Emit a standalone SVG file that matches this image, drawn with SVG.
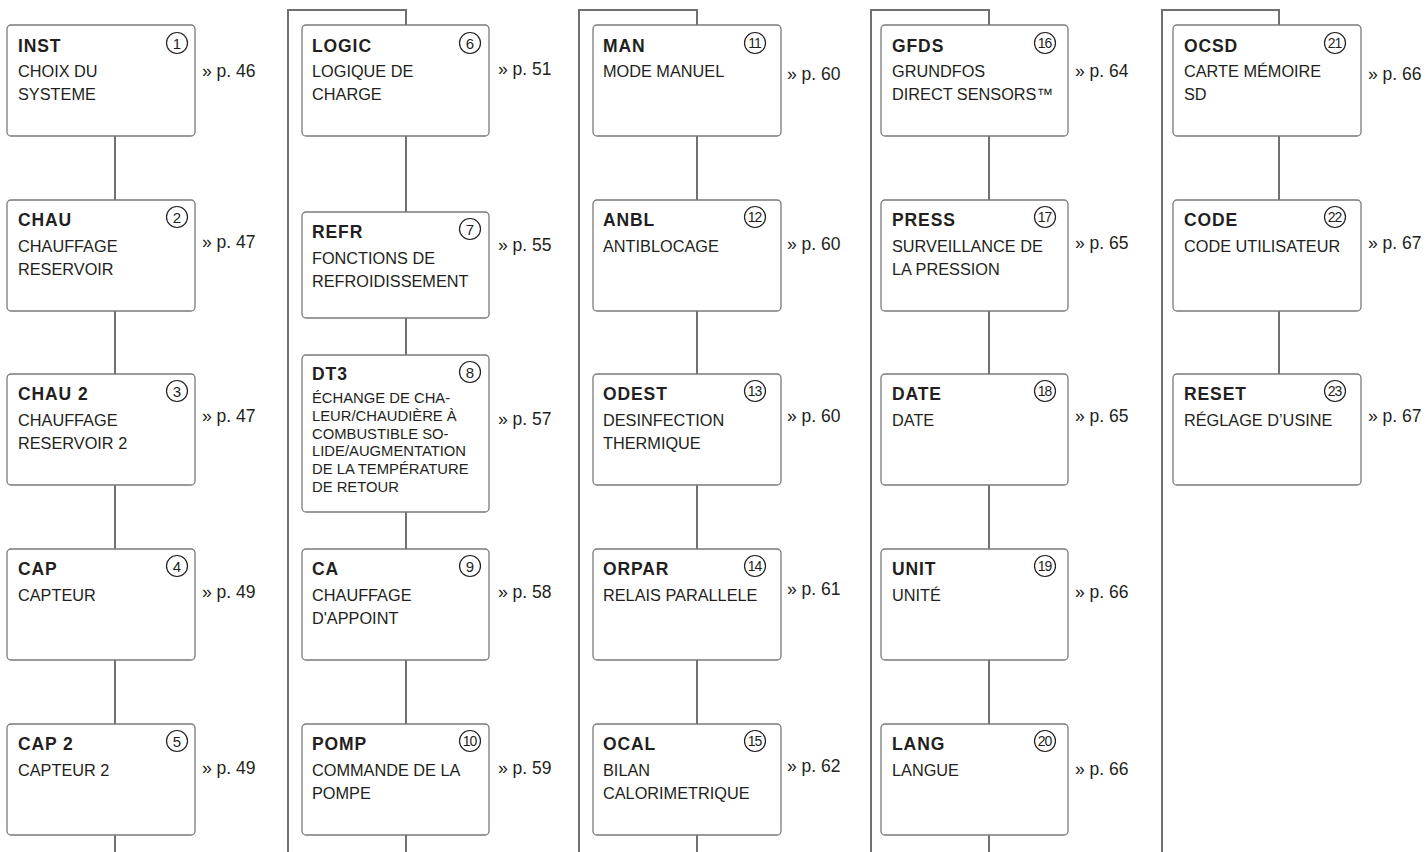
<svg xmlns="http://www.w3.org/2000/svg" width="1427" height="852" viewBox="0 0 1427 852">
<style>
.box{fill:#fff;stroke:#7a7a7a;stroke-width:1.3}
.conn{fill:none;stroke:#707070;stroke-width:2}
text{font-family:"Liberation Sans",Arial,sans-serif;fill:#231f20}
.t{font-weight:bold;font-size:17.5px;letter-spacing:0.9px}
.d{font-size:16.3px}
.s{font-size:14.8px}
.p{font-size:17.5px}
.nc{fill:#fff;stroke:#231f20;stroke-width:1.2}
.n{font-size:15px;text-anchor:middle}
.n2{font-size:14px;text-anchor:middle;letter-spacing:-1px}
</style>
<rect width="1427" height="852" fill="#fff"/>
<g id="connectors">
<path class="conn" d="M115 136V200M115 311V374M115 485V549M115 660V724M115 835V852"/>
<path class="conn" d="M288 852V10H406V25M406 136V212M406 318V355M406 512V549M406 660V724M406 835V852"/>
<path class="conn" d="M579 852V10H697V25M697 136V200M697 311V374M697 485V549M697 660V724M697 835V852"/>
<path class="conn" d="M871 852V10H989V25M989 136V200M989 311V374M989 485V549M989 660V724M989 835V852"/>
<path class="conn" d="M1162 852V10H1279V25M1279 136V200M1279 311V374"/>
</g>
<g id="n1"><rect class="box" x="7" y="25" width="188" height="111" rx="4"/><text class="t" x="18" y="52">INST</text><circle class="nc" cx="177" cy="43" r="10.5"/><text class="n" x="177" y="48.5">1</text><text class="d" x="18" y="77">CHOIX DU</text><text class="d" x="18" y="100">SYSTEME</text><text class="p" x="202" y="77">» p. 46</text></g>
<g id="n2"><rect class="box" x="7" y="200" width="188" height="111" rx="4"/><text class="t" x="18" y="226">CHAU</text><circle class="nc" cx="177" cy="217" r="10.5"/><text class="n" x="177" y="222.5">2</text><text class="d" x="18" y="252">CHAUFFAGE</text><text class="d" x="18" y="275">RESERVOIR</text><text class="p" x="202" y="248">» p. 47</text></g>
<g id="n3"><rect class="box" x="7" y="374" width="188" height="111" rx="4"/><text class="t" x="18" y="400">CHAU 2</text><circle class="nc" cx="177" cy="391" r="10.5"/><text class="n" x="177" y="396.5">3</text><text class="d" x="18" y="426">CHAUFFAGE</text><text class="d" x="18" y="449">RESERVOIR 2</text><text class="p" x="202" y="422">» p. 47</text></g>
<g id="n4"><rect class="box" x="7" y="549" width="188" height="111" rx="4"/><text class="t" x="18" y="575">CAP</text><circle class="nc" cx="177" cy="566" r="10.5"/><text class="n" x="177" y="571.5">4</text><text class="d" x="18" y="601">CAPTEUR</text><text class="p" x="202" y="598">» p. 49</text></g>
<g id="n5"><rect class="box" x="7" y="724" width="188" height="111" rx="4"/><text class="t" x="18" y="750">CAP 2</text><circle class="nc" cx="177" cy="741" r="10.5"/><text class="n" x="177" y="746.5">5</text><text class="d" x="18" y="776">CAPTEUR 2</text><text class="p" x="202" y="774">» p. 49</text></g>
<g id="n6"><rect class="box" x="302" y="25" width="187" height="111" rx="4"/><text class="t" x="312" y="52">LOGIC</text><circle class="nc" cx="470" cy="43" r="10.5"/><text class="n" x="470" y="48.5">6</text><text class="d" x="312" y="77">LOGIQUE DE</text><text class="d" x="312" y="100">CHARGE</text><text class="p" x="498" y="75">» p. 51</text></g>
<g id="n7"><rect class="box" x="302" y="212" width="187" height="106" rx="4"/><text class="t" x="312" y="238">REFR</text><circle class="nc" cx="470" cy="229" r="10.5"/><text class="n" x="470" y="234.5">7</text><text class="d" x="312" y="264">FONCTIONS DE</text><text class="d" x="312" y="287">REFROIDISSEMENT</text><text class="p" x="498" y="251">» p. 55</text></g>
<g id="n8"><rect class="box" x="302" y="355" width="187" height="157" rx="4"/><text class="t" x="312" y="380">DT3</text><circle class="nc" cx="470" cy="372" r="10.5"/><text class="n" x="470" y="377.5">8</text><text class="s" x="312" y="403">ÉCHANGE DE CHA-</text><text class="s" x="312" y="421">LEUR/CHAUDIÈRE À</text><text class="s" x="312" y="439">COMBUSTIBLE SO-</text><text class="s" x="312" y="456">LIDE/AUGMENTATION</text><text class="s" x="312" y="474">DE LA TEMPÉRATURE</text><text class="s" x="312" y="492">DE RETOUR</text><text class="p" x="498" y="425">» p. 57</text></g>
<g id="n9"><rect class="box" x="302" y="549" width="187" height="111" rx="4"/><text class="t" x="312" y="575">CA</text><circle class="nc" cx="470" cy="566" r="10.5"/><text class="n" x="470" y="571.5">9</text><text class="d" x="312" y="601">CHAUFFAGE</text><text class="d" x="312" y="624">D'APPOINT</text><text class="p" x="498" y="598">» p. 58</text></g>
<g id="n10"><rect class="box" x="302" y="724" width="187" height="111" rx="4"/><text class="t" x="312" y="750">POMP</text><circle class="nc" cx="470" cy="741" r="10.5"/><text class="n2" x="469.5" y="746">10</text><text class="d" x="312" y="776">COMMANDE DE LA</text><text class="d" x="312" y="799">POMPE</text><text class="p" x="498" y="774">» p. 59</text></g>
<g id="n11"><rect class="box" x="593" y="25" width="188" height="111" rx="4"/><text class="t" x="603" y="52">MAN</text><circle class="nc" cx="755" cy="43" r="10.5"/><text class="n2" x="754.5" y="48">11</text><text class="d" x="603" y="77">MODE MANUEL</text><text class="p" x="787" y="80">» p. 60</text></g>
<g id="n12"><rect class="box" x="593" y="200" width="188" height="111" rx="4"/><text class="t" x="603" y="226">ANBL</text><circle class="nc" cx="755" cy="217" r="10.5"/><text class="n2" x="754.5" y="222">12</text><text class="d" x="603" y="252">ANTIBLOCAGE</text><text class="p" x="787" y="250">» p. 60</text></g>
<g id="n13"><rect class="box" x="593" y="374" width="188" height="111" rx="4"/><text class="t" x="603" y="400">ODEST</text><circle class="nc" cx="755" cy="391" r="10.5"/><text class="n2" x="754.5" y="396">13</text><text class="d" x="603" y="426">DESINFECTION</text><text class="d" x="603" y="449">THERMIQUE</text><text class="p" x="787" y="422">» p. 60</text></g>
<g id="n14"><rect class="box" x="593" y="549" width="188" height="111" rx="4"/><text class="t" x="603" y="575">ORPAR</text><circle class="nc" cx="755" cy="566" r="10.5"/><text class="n2" x="754.5" y="571">14</text><text class="d" x="603" y="601">RELAIS PARALLELE</text><text class="p" x="787" y="595">» p. 61</text></g>
<g id="n15"><rect class="box" x="593" y="724" width="188" height="111" rx="4"/><text class="t" x="603" y="750">OCAL</text><circle class="nc" cx="755" cy="741" r="10.5"/><text class="n2" x="754.5" y="746">15</text><text class="d" x="603" y="776">BILAN</text><text class="d" x="603" y="799">CALORIMETRIQUE</text><text class="p" x="787" y="772">» p. 62</text></g>
<g id="n16"><rect class="box" x="881" y="25" width="187" height="111" rx="4"/><text class="t" x="892" y="52">GFDS</text><circle class="nc" cx="1045" cy="43" r="10.5"/><text class="n2" x="1044.5" y="48">16</text><text class="d" x="892" y="77">GRUNDFOS</text><text class="d" x="892" y="100">DIRECT SENSORS™</text><text class="p" x="1075" y="77">» p. 64</text></g>
<g id="n17"><rect class="box" x="881" y="200" width="187" height="111" rx="4"/><text class="t" x="892" y="226">PRESS</text><circle class="nc" cx="1045" cy="217" r="10.5"/><text class="n2" x="1044.5" y="222">17</text><text class="d" x="892" y="252">SURVEILLANCE DE</text><text class="d" x="892" y="275">LA PRESSION</text><text class="p" x="1075" y="249">» p. 65</text></g>
<g id="n18"><rect class="box" x="881" y="374" width="187" height="111" rx="4"/><text class="t" x="892" y="400">DATE</text><circle class="nc" cx="1045" cy="391" r="10.5"/><text class="n2" x="1044.5" y="396">18</text><text class="d" x="892" y="426">DATE</text><text class="p" x="1075" y="422">» p. 65</text></g>
<g id="n19"><rect class="box" x="881" y="549" width="187" height="111" rx="4"/><text class="t" x="892" y="575">UNIT</text><circle class="nc" cx="1045" cy="566" r="10.5"/><text class="n2" x="1044.5" y="571">19</text><text class="d" x="892" y="601">UNITÉ</text><text class="p" x="1075" y="598">» p. 66</text></g>
<g id="n20"><rect class="box" x="881" y="724" width="187" height="111" rx="4"/><text class="t" x="892" y="750">LANG</text><circle class="nc" cx="1045" cy="741" r="10.5"/><text class="n2" x="1044.5" y="746">20</text><text class="d" x="892" y="776">LANGUE</text><text class="p" x="1075" y="775">» p. 66</text></g>
<g id="n21"><rect class="box" x="1173" y="25" width="188" height="111" rx="4"/><text class="t" x="1184" y="52">OCSD</text><circle class="nc" cx="1335" cy="43" r="10.5"/><text class="n2" x="1334.5" y="48">21</text><text class="d" x="1184" y="77">CARTE MÉMOIRE</text><text class="d" x="1184" y="100">SD</text><text class="p" x="1368" y="80">» p. 66</text></g>
<g id="n22"><rect class="box" x="1173" y="200" width="188" height="111" rx="4"/><text class="t" x="1184" y="226">CODE</text><circle class="nc" cx="1335" cy="217" r="10.5"/><text class="n2" x="1334.5" y="222">22</text><text class="d" x="1184" y="252">CODE UTILISATEUR</text><text class="p" x="1368" y="249">» p. 67</text></g>
<g id="n23"><rect class="box" x="1173" y="374" width="188" height="111" rx="4"/><text class="t" x="1184" y="400">RESET</text><circle class="nc" cx="1335" cy="391" r="10.5"/><text class="n2" x="1334.5" y="396">23</text><text class="d" x="1184" y="426">RÉGLAGE D’USINE</text><text class="p" x="1368" y="422">» p. 67</text></g>
</svg>
